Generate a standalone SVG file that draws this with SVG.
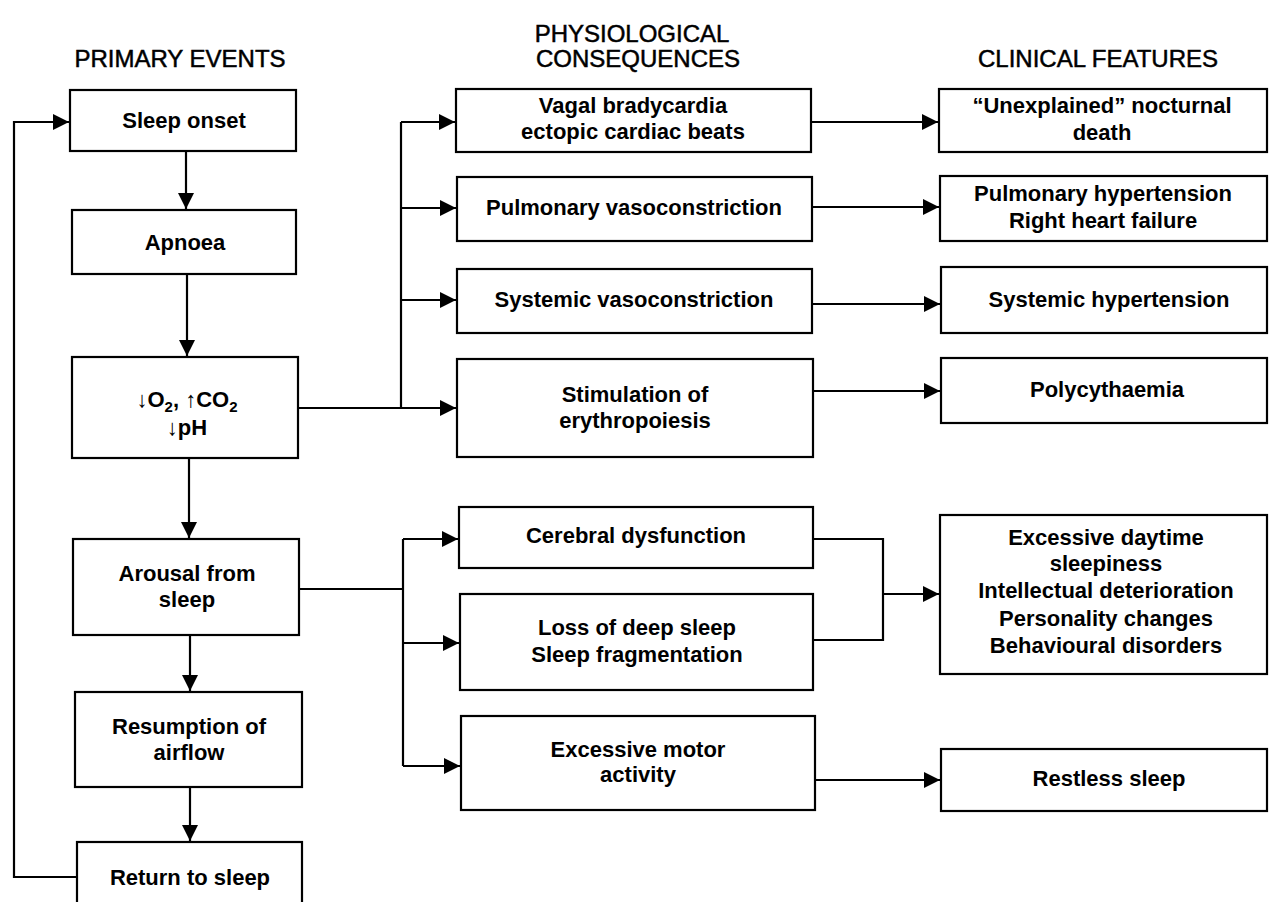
<svg xmlns="http://www.w3.org/2000/svg" width="1269" height="902" viewBox="0 0 1269 902">
<style>
  .box{fill:#fff;stroke:#000;stroke-width:2.2}
  .t{font-family:"Liberation Sans",Arial,Helvetica,sans-serif;font-size:22px;font-weight:bold;text-anchor:middle;fill:#000}
  .h{font-family:"Liberation Sans",Arial,Helvetica,sans-serif;font-size:24px;text-anchor:middle;fill:#000;stroke:#000;stroke-width:0.5}
  .c{fill:none;stroke:#000;stroke-width:2.2}
</style>
<defs>
  <marker id="ah" markerUnits="userSpaceOnUse" markerWidth="17" markerHeight="16" refX="16" refY="8" orient="auto">
    <path d="M0,0 L16,8 L0,16 z" fill="#000"/>
  </marker>
</defs>
<rect width="1269" height="902" fill="#fff"/>

<g id="headers">
  <text class="h" x="180" y="67">PRIMARY EVENTS</text>
  <text class="h" x="632" y="42">PHYSIOLOGICAL</text>
  <text class="h" x="638" y="67">CONSEQUENCES</text>
  <text class="h" x="1098" y="67">CLINICAL FEATURES</text>
</g>

<g id="connectors">
  <path class="c" d="M186,151 V209" marker-end="url(#ah)"/>
  <path class="c" d="M187,274 V356" marker-end="url(#ah)"/>
  <path class="c" d="M189,458 V538" marker-end="url(#ah)"/>
  <path class="c" d="M190,635 V691" marker-end="url(#ah)"/>
  <path class="c" d="M190,787 V841" marker-end="url(#ah)"/>
  <path class="c" d="M77,877 H14 V122 H69" marker-end="url(#ah)"/>

  <path class="c" d="M298,408 H456" marker-end="url(#ah)"/>
  <path class="c" d="M401,408 V122"/>
  <path class="c" d="M401,122 H455" marker-end="url(#ah)"/>
  <path class="c" d="M401,208 H456" marker-end="url(#ah)"/>
  <path class="c" d="M401,300 H456" marker-end="url(#ah)"/>

  <path class="c" d="M299,589 H403"/>
  <path class="c" d="M403,539 V766"/>
  <path class="c" d="M403,539 H458" marker-end="url(#ah)"/>
  <path class="c" d="M403,643 H459" marker-end="url(#ah)"/>
  <path class="c" d="M403,766 H460" marker-end="url(#ah)"/>

  <path class="c" d="M811,122 H938" marker-end="url(#ah)"/>
  <path class="c" d="M812,207 H939" marker-end="url(#ah)"/>
  <path class="c" d="M812,304 H940" marker-end="url(#ah)"/>
  <path class="c" d="M813,391 H940" marker-end="url(#ah)"/>
  <path class="c" d="M813,539 H883 V640 H813"/>
  <path class="c" d="M883,594 H939" marker-end="url(#ah)"/>
  <path class="c" d="M815,780 H940" marker-end="url(#ah)"/>
</g>

<g id="sleep-onset">
  <rect class="box" x="70" y="90" width="226" height="61"/>
  <text class="t" x="184" y="128">Sleep onset</text>
</g>
<g id="apnoea">
  <rect class="box" x="72" y="210" width="224" height="64"/>
  <text class="t" x="185" y="250">Apnoea</text>
</g>
<g id="blood-gases">
  <rect class="box" x="72" y="357" width="226" height="101"/>
  <text class="t" x="187" y="407">↓O<tspan font-size="15" dy="5">2</tspan><tspan dy="-5">, ↑CO</tspan><tspan font-size="15" dy="5">2</tspan></text>
  <text class="t" x="187" y="435">↓pH</text>
</g>
<g id="arousal">
  <rect class="box" x="73" y="539" width="226" height="96"/>
  <text class="t" x="187" y="581">Arousal from</text>
  <text class="t" x="187" y="607">sleep</text>
</g>
<g id="resumption">
  <rect class="box" x="75" y="692" width="227" height="95"/>
  <text class="t" x="189" y="734">Resumption of</text>
  <text class="t" x="189" y="760">airflow</text>
</g>
<g id="return-to-sleep">
  <rect class="box" x="77" y="842" width="225" height="70"/>
  <text class="t" x="190" y="885">Return to sleep</text>
</g>

<g id="vagal">
  <rect class="box" x="456" y="89" width="355" height="63"/>
  <text class="t" x="633" y="113">Vagal bradycardia</text>
  <text class="t" x="633" y="139">ectopic cardiac beats</text>
</g>
<g id="pulm-vaso">
  <rect class="box" x="457" y="177" width="355" height="64"/>
  <text class="t" x="634" y="215">Pulmonary vasoconstriction</text>
</g>
<g id="sys-vaso">
  <rect class="box" x="457" y="269" width="355" height="64"/>
  <text class="t" x="634" y="307">Systemic vasoconstriction</text>
</g>
<g id="erythropoiesis">
  <rect class="box" x="457" y="359" width="356" height="98"/>
  <text class="t" x="635" y="402">Stimulation of</text>
  <text class="t" x="635" y="428">erythropoiesis</text>
</g>
<g id="cerebral">
  <rect class="box" x="459" y="507" width="354" height="61"/>
  <text class="t" x="636" y="543">Cerebral dysfunction</text>
</g>
<g id="deep-sleep">
  <rect class="box" x="460" y="594" width="353" height="96"/>
  <text class="t" x="637" y="635">Loss of deep sleep</text>
  <text class="t" x="637" y="662">Sleep fragmentation</text>
</g>
<g id="motor">
  <rect class="box" x="461" y="716" width="354" height="94"/>
  <text class="t" x="638" y="757">Excessive motor</text>
  <text class="t" x="638" y="782">activity</text>
</g>

<g id="nocturnal-death">
  <rect class="box" x="939" y="89" width="328" height="63"/>
  <text class="t" x="1102" y="113">“Unexplained” nocturnal</text>
  <text class="t" x="1102" y="140">death</text>
</g>
<g id="pulm-hyper">
  <rect class="box" x="940" y="176" width="327" height="65"/>
  <text class="t" x="1103" y="201">Pulmonary hypertension</text>
  <text class="t" x="1103" y="228">Right heart failure</text>
</g>
<g id="sys-hyper">
  <rect class="box" x="941" y="267" width="326" height="66"/>
  <text class="t" x="1109" y="307">Systemic hypertension</text>
</g>
<g id="polycythaemia">
  <rect class="box" x="941" y="358" width="326" height="65"/>
  <text class="t" x="1107" y="397">Polycythaemia</text>
</g>
<g id="daytime">
  <rect class="box" x="940" y="515" width="327" height="159"/>
  <text class="t" x="1106" y="545">Excessive daytime</text>
  <text class="t" x="1106" y="571">sleepiness</text>
  <text class="t" x="1106" y="598">Intellectual deterioration</text>
  <text class="t" x="1106" y="626">Personality changes</text>
  <text class="t" x="1106" y="653">Behavioural disorders</text>
</g>
<g id="restless">
  <rect class="box" x="941" y="749" width="326" height="62"/>
  <text class="t" x="1109" y="786">Restless sleep</text>
</g>
</svg>
